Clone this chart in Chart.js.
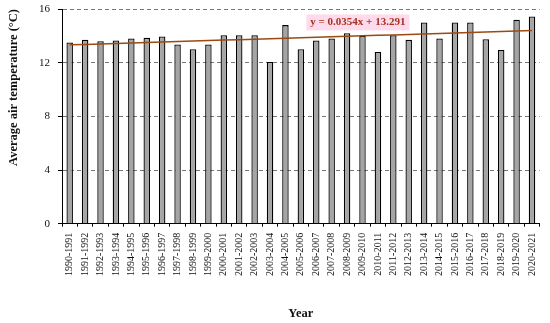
<!DOCTYPE html>
<html>
<head>
<meta charset="UTF-8">
<title>Average air temperature</title>
<style>
  body { margin: 0; background: white; }
  #wrap { width: 550px; height: 323px; }
</style>
</head>
<body>
<div id="wrap"><canvas id="chart" width="550" height="323"></canvas></div>
<script src="https://cdn.jsdelivr.net/npm/chart.js"></script>
<script>
// season labels
const years = [
  '1990-1991', '1991-1992', '1992-1993', '1993-1994', '1994-1995', '1995-1996',
  '1996-1997', '1997-1998', '1998-1999', '1999-2000', '2000-2001', '2001-2002',
  '2002-2003', '2003-2004', '2004-2005', '2005-2006', '2006-2007', '2007-2008',
  '2008-2009', '2009-2010', '2010-2011', '2011-2012', '2012-2013', '2013-2014',
  '2014-2015', '2015-2016', '2016-2017', '2017-2018', '2018-2019', '2019-2020',
  '2020-2021'
];
// average air temperature, °C
const temps = [
  13.5, 13.7, 13.6, 13.65, 13.8, 13.85,
  13.95, 13.35, 13.0, 13.35, 14.05, 14.05,
  14.05, 12.05, 14.8, 13.0, 13.65, 13.8,
  14.2, 14.0, 12.8, 14.05, 13.7, 15.0,
  13.8, 15.0, 15.0, 13.75, 12.95, 15.2,
  15.45
];
// linear trend from the figure
const slope = 0.0354;
const intercept = 13.291;
const trend = years.map((_, i) => slope * (i + 1) + intercept);
const trendLabel = 'y = 0.0354x + 13.291';
const yTicks = [0, 4, 8, 12, 16];

const serif = '"Liberation Serif", "DejaVu Serif", serif';

// draws the trend equation above the line
const trendText = {
  id: 'trendText',
  afterDatasetsDraw(chart) {
    const { ctx, scales } = chart;
    const x = scales.x.getPixelForValue(18.7);
    const y = scales.y.getPixelForValue(15.0);
    ctx.save();
    ctx.font = 'bold 11px ' + serif;
    const w = ctx.measureText(trendLabel).width;
    ctx.fillStyle = 'rgba(255, 205, 230, 0.75)';
    ctx.fillRect(x - w / 2 - 4, y - 8, w + 8, 16);
    ctx.fillStyle = '#a4321e';
    ctx.textAlign = 'center';
    ctx.textBaseline = 'middle';
    ctx.fillText(trendLabel, x, y);
    ctx.restore();
  }
};

new Chart(document.getElementById('chart'), {
  data: {
    labels: years,
    datasets: [
      {
        type: 'line',
        data: trend,
        borderColor: '#9c4a12',
        borderWidth: 1.5,
        pointRadius: 0,
        order: 0
      },
      {
        type: 'bar',
        data: temps,
        backgroundColor: '#a5a5a5',
        borderColor: '#000',
        borderWidth: 1.3,
        barPercentage: 0.42,
        categoryPercentage: 1,
        order: 1
      }
    ]
  },
  options: {
    responsive: false,
    animation: false,
    layout: { padding: { top: 0, right: 0, left: 2, bottom: 2 } },
    plugins: {
      legend: { display: false },
      tooltip: { enabled: false }
    },
    scales: {
      x: {
        offset: true,
        grid: {
          offset: true,
          drawOnChartArea: false,
          tickLength: 3,
          color: '#000'
        },
        border: { color: '#000', width: 1 },
        ticks: {
          autoSkip: false,
          minRotation: 90,
          maxRotation: 90,
          color: '#111',
          padding: 6,
          font: { family: serif, size: 10 }
        },
        title: {
          display: true,
          text: 'Year',
          color: '#111',
          padding: { top: 24, bottom: 0 },
          font: { family: serif, size: 12.5, weight: 'bold' }
        }
      },
      y: {
        min: 0,
        max: 16,
        afterBuildTicks(axis) {
          axis.ticks = yTicks.map(v => ({ value: v }));
        },
        afterFit(axis) {
          axis.paddingTop = 9;
        },
        grid: {
          color: '#777',
          tickLength: 4,
          tickColor: '#000'
        },
        border: { color: '#000', width: 1, dash: [4, 3] },
        ticks: {
          color: '#111',
          padding: 8,
          font: { family: serif, size: 11 }
        },
        title: {
          display: true,
          text: 'Average air temperature (°C)',
          align: 'end',
          color: '#111',
          padding: { bottom: 10 },
          font: { family: serif, size: 12.5, weight: 'bold' }
        }
      }
    }
  },
  plugins: [trendText]
});
</script>
</body>
</html>
